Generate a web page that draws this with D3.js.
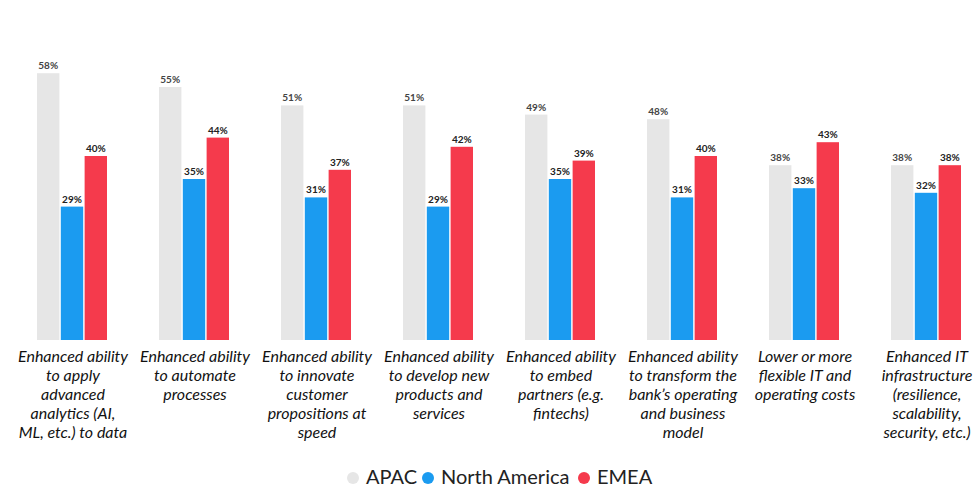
<!DOCTYPE html>
<html><head><meta charset="utf-8">
<script src="https://cdn.jsdelivr.net/npm/d3@7"></script>
<style>html,body{margin:0;padding:0;background:#fff;}</style>
</head><body>
<svg id="chart" width="977" height="489"></svg>
<script>
const categories = [
  ["Enhanced ability","to apply","advanced","analytics (AI,","ML, etc.) to data"],
  ["Enhanced ability","to automate","processes"],
  ["Enhanced ability","to innovate","customer","propositions at","speed"],
  ["Enhanced ability","to develop new","products and","services"],
  ["Enhanced ability","to embed","partners (e.g.","fintechs)"],
  ["Enhanced ability","to transform the","bank’s operating","and business","model"],
  ["Lower or more","flexible IT and","operating costs"],
  ["Enhanced IT","infrastructure","(resilience,","scalability,","security, etc.)"]
];
const seriesNames = ["APAC","North America","EMEA"];
const apac = [58,55,51,51,49,48,38,38];
const northAmerica = [29,35,31,29,35,31,33,32];
const emea = [40,44,37,42,39,40,43,38];
const colors = ["#e6e6e6","#1b9bf0","#f53a4c"];

const svg = d3.select("#chart");
const idx = d3.range(categories.length);
const x0 = d3.scaleBand().domain(idx).range([11, 987]).padding(0);
const x1 = d3.scaleBand().domain([0,1,2]).range([26, 96]).paddingInner(0.06);
const y = d3.scaleLinear().domain([0, 100]).range([340, -120]);
const data = [apac, northAmerica, emea];

const g = svg.append("g");
idx.forEach(i => {
  const gg = g.append("g").attr("transform", `translate(${x0(i)},0)`);
  data.forEach((s, k) => {
    gg.append("rect")
      .attr("x", x1(k)).attr("width", x1.bandwidth())
      .attr("y", y(s[i])).attr("height", y(0) - y(s[i]))
      .attr("fill", colors[k]);
    gg.append("text")
      .attr("x", x1(k) + x1.bandwidth()/2).attr("y", y(s[i]) - 4)
      .attr("text-anchor", "middle")
      .attr("font-family", "Lato, sans-serif").attr("font-weight", "bold")
      .attr("font-size", 10).attr("fill", k === 0 ? "#444" : "#222")
      .text(s[i] + "%");
  });
  const t = gg.append("text")
    .attr("text-anchor", "middle")
    .attr("font-family", "Lato, sans-serif").attr("font-style", "italic")
    .attr("font-size", 16).attr("fill", "#111");
  categories[i].forEach((line, j) => {
    t.append("tspan").attr("x", x0.bandwidth()/2 + 1).attr("y", 362 + j*19).text(line);
  });
});

// legend
const legend = svg.append("g").attr("font-family", "Lato, sans-serif").attr("font-size", 20).attr("fill", "#222");
const legendX = [366, 441, 597];
seriesNames.forEach((n, k) => {
  legend.append("circle").attr("cx", legendX[k] - 13).attr("cy", 478).attr("r", 6).attr("fill", colors[k]);
  legend.append("text").attr("x", legendX[k]).attr("y", 484).text(n);
});
</script>
</body></html>
